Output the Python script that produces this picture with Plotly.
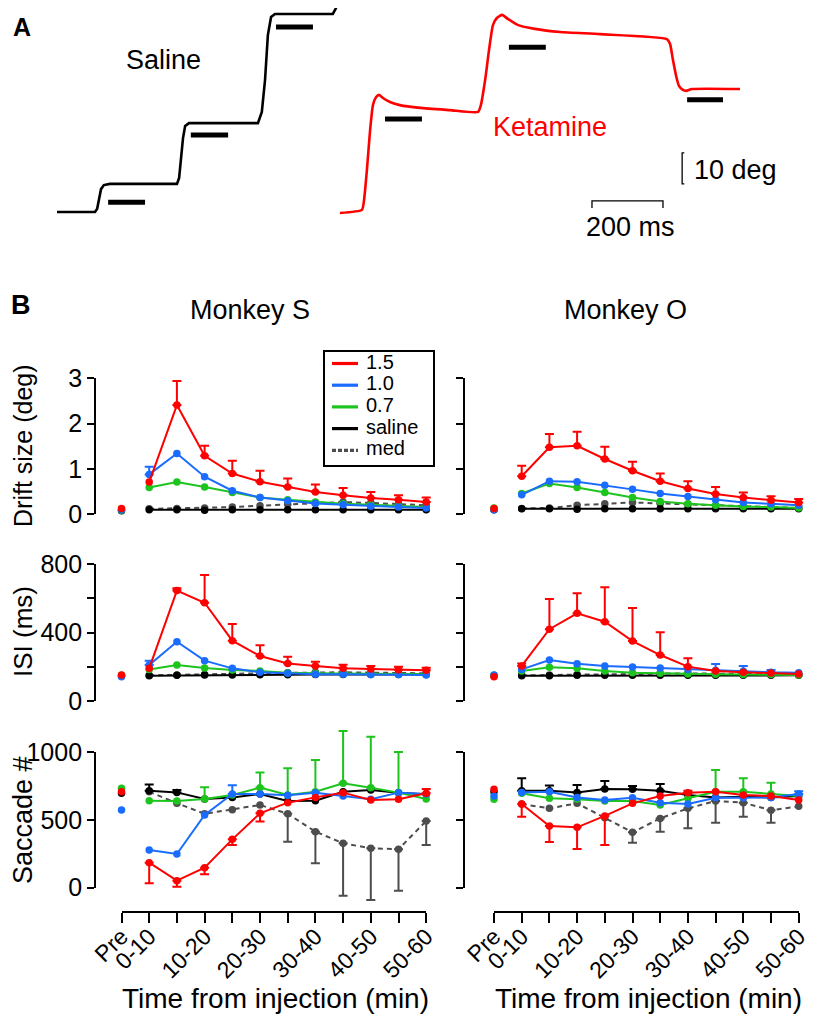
import plotly.graph_objects as go

# the page body keeps an 8 px margin, so the figure is made 8 px smaller and all
# pixel positions below are measured from the window's top-left corner
OFF = 8
W, H = 825 - OFF, 1017 - OFF
FONT = 'Liberation Sans, Arial, sans-serif'

RED = '#FF0000'
BLUE = '#1A6CFF'
GREEN = '#1EC41E'
BLACK = '#000000'
GREY = '#4D4D4D'

# ---------- A: example eye position traces (time in ms, position in deg) ----------
saline_t = [0, 107, 113, 118, 124, 132, 149, 338, 344, 349, 355, 361, 372,
            566, 577, 586, 594, 603, 614, 777, 786, 794]
saline_d = [0.3, 0.3, 1.3, 4.8, 7.7, 9.0, 9.4, 9.4, 11.3, 17.1, 24.2, 28.1, 29.0,
            29.0, 32.6, 42.9, 57.4, 63.2, 64.2, 64.2, 66.1, 70.3]
ketamine_t = [797, 859, 865, 873, 882, 890, 899, 907, 918, 938, 966, 1023, 1107, 1186,
              1194, 1206, 1217, 1228, 1239, 1254, 1270, 1299, 1346, 1417, 1530, 1718,
              1727, 1735, 1744, 1752, 1763, 1772, 1789, 1924]
ketamine_d = [0.0, 1.0, 4.2, 13.9, 26.8, 34.8, 37.4, 38.1, 37.1, 35.8, 34.8, 33.9, 33.2, 32.6,
              34.8, 42.9, 52.6, 60.6, 62.9, 63.9, 62.6, 60.6, 59.4, 58.4, 57.7, 56.1,
              54.5, 49.4, 44.2, 41.0, 39.7, 39.4, 40.0, 40.0]
saline_bar_t0 = [144, 377, 617]
saline_bar_t1 = [248, 482, 721]
saline_bar_d = [3.5, 25.2, 60.0]
ketamine_bar_t0 = [924, 1273, 1775]
ketamine_bar_t1 = [1028, 1377, 1876]
ketamine_bar_d = [30.3, 53.5, 36.5]
deg_scale_t = [1767, 1761, 1761, 1767]
deg_scale_d = [19.4, 19.4, 9.4, 9.4]
ms_scale_t = [1507, 1507, 1707, 1707]
ms_scale_d = [1.6, 3.9, 3.9, 1.6]

# ---------- B: summary per time bin; first value is "Pre" ----------
bin_labels = ['Pre', '0-10', '', '10-20', '', '20-30', '', '30-40', '', '40-50', '', '50-60']
legend_names = ['1.5', '1.0', '0.7', 'saline', 'med']
N = None

# Drift size (deg), monkey S
drift_s_red = [0.13, 0.71, 2.41, 1.29, 0.90, 0.72, 0.60, 0.49, 0.42, 0.36, 0.32, 0.27]
drift_s_red_hi = [N, N, 2.94, 1.51, 1.18, 0.96, 0.79, 0.66, 0.58, 0.49, 0.42, 0.37]
drift_s_blue = [0.10, 0.88, 1.34, 0.83, 0.52, 0.37, 0.30, 0.24, 0.21, 0.18, 0.16, 0.14]
drift_s_blue_hi = [N, 1.05, N, N, N, N, N, N, N, N, N, N]
drift_s_green = [0.09, 0.59, 0.71, 0.60, 0.48, 0.37, 0.32, 0.27, 0.23, 0.21, 0.18, 0.16]
drift_s_black = [0.08, 0.10, 0.10, 0.09, 0.10, 0.10, 0.10, 0.10, 0.10, 0.10, 0.10, 0.10]
drift_s_med = [N, 0.12, 0.13, 0.14, 0.16, 0.19, 0.22, 0.25, 0.27, 0.25, 0.22, 0.20]

# Drift size (deg), monkey O
drift_o_red = [0.13, 0.84, 1.48, 1.51, 1.22, 0.96, 0.73, 0.57, 0.45, 0.37, 0.31, 0.26]
drift_o_red_hi = [N, 1.07, 1.77, 1.82, 1.49, 1.16, 0.90, 0.73, 0.60, 0.48, 0.40, 0.34]
drift_o_blue = [0.10, 0.43, 0.73, 0.72, 0.64, 0.55, 0.46, 0.39, 0.32, 0.26, 0.23, 0.20]
drift_o_green = [0.14, 0.46, 0.68, 0.59, 0.48, 0.37, 0.28, 0.23, 0.20, 0.17, 0.16, 0.14]
drift_o_black = [0.10, 0.12, 0.12, 0.11, 0.12, 0.12, 0.12, 0.12, 0.12, 0.12, 0.12, 0.12]
drift_o_med = [N, 0.13, 0.14, 0.20, 0.23, 0.26, 0.24, 0.22, 0.19, 0.17, 0.16, 0.14]

# ISI (ms), monkey S
isi_s_red = [152, 191, 646, 575, 353, 263, 220, 205, 191, 187, 183, 180]
isi_s_red_hi = [N, N, 660, 737, 451, 326, 259, 230, 212, 205, 201, 195]
isi_s_blue = [142, 211, 347, 236, 191, 168, 162, 156, 156, 155, 155, 152]
isi_s_blue_hi = [N, 236, N, N, N, N, N, N, N, N, N, N]
isi_s_green = [150, 185, 211, 193, 181, 176, 166, 162, 160, 158, 157, 156]
isi_s_black = [148, 148, 150, 152, 152, 153, 154, 155, 155, 155, 155, 155]
isi_s_med = [N, 150, 152, 155, 158, 162, 165, 168, 168, 166, 164, 162]

# ISI (ms), monkey O
isi_o_red = [142, 205, 420, 513, 464, 351, 269, 201, 176, 168, 164, 158]
isi_o_red_hi = [N, 220, 597, 630, 665, 544, 402, 250, N, N, N, N]
isi_o_blue = [152, 185, 240, 218, 205, 199, 193, 185, 178, 174, 168, 166]
isi_o_blue_hi = [N, N, N, N, N, N, N, N, 216, 205, 181, N]
isi_o_green = [150, 176, 197, 191, 176, 166, 162, 158, 156, 155, 155, 152]
isi_o_black = [148, 148, 148, 150, 150, 150, 150, 150, 150, 150, 150, 150]
isi_o_med = [N, 150, 152, 155, 160, 162, 163, 162, 160, 158, 156, 155]

# Saccade #, monkey S
sac_s_red = [709, 185, 52, 148, 357, 549, 628, 667, 702, 648, 653, 697]
sac_s_red_hi = [N, N, N, N, N, N, N, N, N, N, N, 729]
sac_s_red_lo = [N, 32, 7, 99, 315, 488, N, N, N, N, N, N]
sac_s_blue = [574, 278, 249, 537, 692, 692, 682, 702, 677, 653, 702, 692]
sac_s_blue_hi = [N, N, N, N, 756, N, N, N, N, N, N, N]
sac_s_green = [734, 643, 640, 655, 685, 739, 685, 709, 771, 739, 702, 655]
sac_s_green_hi = [N, N, N, 741, N, 850, 882, 943, 1157, 1115, 1002, N]
sac_s_black = [697, 716, 704, 655, 667, 692, 640, 643, 709, 721, 702, 690]
sac_s_black_hi = [N, 763, 721, N, N, N, N, N, N, N, N, N]
sac_s_med = [N, 709, 624, 546, 576, 611, 546, 414, 328, 291, 284, 493]
sac_s_med_lo = [N, N, N, N, N, N, 340, 180, -59, -91, -22, 315]

# Saccade #, monkey O
sac_o_red = [727, 618, 456, 446, 530, 623, 677, 702, 709, 685, 677, 648]
sac_o_red_hi = [N, N, N, N, N, N, N, 716, N, N, N, N]
sac_o_red_lo = [N, 524, 338, 286, 315, N, N, N, N, N, N, N]
sac_o_blue = [677, 704, 709, 667, 648, 665, 628, 618, 665, 665, 667, 692]
sac_o_blue_hi = [N, N, N, N, N, N, N, N, N, N, N, 712]
sac_o_green = [653, 697, 660, 653, 640, 640, 611, 660, 709, 709, 692, 677]
sac_o_green_hi = [N, N, N, N, N, N, N, N, 869, 808, 776, N]
sac_o_black = [709, 716, 716, 704, 729, 727, 716, 685, 667, 672, 667, 677]
sac_o_black_hi = [N, 808, 754, 759, 788, 751, 766, N, N, N, N, N]
sac_o_med = [N, 618, 586, 623, 516, 409, 512, 586, 640, 628, 572, 601]
sac_o_med_lo = [N, N, N, N, N, 332, 414, 439, 480, 524, 480, N]

# series styles; drawn back to front
DASH = '5px,4px'
style = {'med': (GREY, DASH), 'saline': (BLACK, 'solid'), '0.7': (GREEN, 'solid'),
         '1.0': (BLUE, 'solid'), '1.5': (RED, 'solid')}
draw_order = ['med', 'saline', '0.7', '1.0', '1.5']

panels = [
    [  # drift
        {'med': (drift_s_med, N, N), 'saline': (drift_s_black, N, N), '0.7': (drift_s_green, N, N),
         '1.0': (drift_s_blue, drift_s_blue_hi, N), '1.5': (drift_s_red, drift_s_red_hi, N)},
        {'med': (drift_o_med, N, N), 'saline': (drift_o_black, N, N), '0.7': (drift_o_green, N, N),
         '1.0': (drift_o_blue, N, N), '1.5': (drift_o_red, drift_o_red_hi, N)},
    ],
    [  # isi
        {'med': (isi_s_med, N, N), 'saline': (isi_s_black, N, N), '0.7': (isi_s_green, N, N),
         '1.0': (isi_s_blue, isi_s_blue_hi, N), '1.5': (isi_s_red, isi_s_red_hi, N)},
        {'med': (isi_o_med, N, N), 'saline': (isi_o_black, N, N), '0.7': (isi_o_green, N, N),
         '1.0': (isi_o_blue, isi_o_blue_hi, N), '1.5': (isi_o_red, isi_o_red_hi, N)},
    ],
    [  # saccades
        {'med': (sac_s_med, N, sac_s_med_lo), 'saline': (sac_s_black, sac_s_black_hi, N),
         '0.7': (sac_s_green, sac_s_green_hi, N), '1.0': (sac_s_blue, sac_s_blue_hi, N),
         '1.5': (sac_s_red, sac_s_red_hi, sac_s_red_lo)},
        {'med': (sac_o_med, N, sac_o_med_lo), 'saline': (sac_o_black, sac_o_black_hi, N),
         '0.7': (sac_o_green, sac_o_green_hi, N), '1.0': (sac_o_blue, sac_o_blue_hi, N),
         '1.5': (sac_o_red, sac_o_red_hi, sac_o_red_lo)},
    ],
]


def fx(p):
    return (p - OFF) / W


def fy(p):
    return 1 - (p - OFF) / H


fig = go.Figure()
hidden = dict(visible=False, automargin=False, fixedrange=True)

# ---- panel A ----
A_T0, A_PX_MS, A_D0, A_PX_DEG = 57, 0.355, 213, 3.1
a_kw = dict(xaxis='x', yaxis='y', showlegend=False, hoverinfo='skip')
fig.add_trace(go.Scatter(x=saline_t, y=saline_d, mode='lines',
                         line=dict(color=BLACK, width=2.6), **a_kw))
fig.add_trace(go.Scatter(x=ketamine_t, y=ketamine_d, mode='lines',
                         line=dict(color=RED, width=2.6, shape='spline', smoothing=0.5), **a_kw))
for t0s, t1s, ds in [(saline_bar_t0, saline_bar_t1, saline_bar_d),
                     (ketamine_bar_t0, ketamine_bar_t1, ketamine_bar_d)]:
    for t0, t1, d in zip(t0s, t1s, ds):
        fig.add_trace(go.Scatter(x=[t0, t1], y=[d, d], mode='lines',
                                 line=dict(color=BLACK, width=5), **a_kw))
fig.add_trace(go.Scatter(x=deg_scale_t, y=deg_scale_d, mode='lines',
                         line=dict(color=BLACK, width=1.3), **a_kw))
fig.add_trace(go.Scatter(x=ms_scale_t, y=ms_scale_d, mode='lines',
                         line=dict(color=BLACK, width=1.3), **a_kw))

layout = dict(
    xaxis=dict(domain=[0, 1], range=[(OFF - A_T0) / A_PX_MS, (OFF + W - A_T0) / A_PX_MS],
               anchor='y', **hidden),
    yaxis=dict(domain=[fy(240), 1], range=[(A_D0 - 240) / A_PX_DEG, (A_D0 - OFF) / A_PX_DEG],
               anchor='x', **hidden),
)

# ---- panel B ----
UNIT = 27.7
cols = [dict(x0=121.5, yline=95, left=78, right=452, labels=True),
        dict(x0=494, yline=464, left=452, right=824, labels=False)]
rows = [dict(y0=514.3, ytop=378.3, top=3, dom=(332, 532),
             ticks=[0, 1, 2, 3], text=['0', '1', '2', '3']),
        dict(y0=701, ytop=564.3, top=800, dom=(540, 718),
             ticks=[0, 200, 400, 600, 800], text=['0', '', '400', '', '800']),
        dict(y0=887.7, ytop=752.3, top=1000, dom=(722, 910),
             ticks=[0, 500, 1000], text=['0', '500', '1000'])]
XLINE = 912
axis_font = dict(family=FONT, size=25, color=BLACK)
frame = dict(showline=True, linecolor=BLACK, linewidth=1.8, ticks='outside', tickwidth=1.8,
             tickcolor=BLACK, showgrid=False, zeroline=False, automargin=False,
             fixedrange=True, tickmode='array')

k = 2
for r, row in enumerate(rows):
    for c, col in enumerate(cols):
        data = panels[r][c]
        xa, ya = 'x%d' % k, 'y%d' % k
        fa = k + 6
        scale = (row['y0'] - row['ytop']) / row['top']
        layout['xaxis%d' % k] = dict(
            domain=[fx(col['left']), fx(col['right'])],
            range=[(col['left'] - col['x0']) / UNIT, (col['right'] - col['x0']) / UNIT],
            anchor=ya, **hidden)
        layout['yaxis%d' % k] = dict(
            domain=[fy(row['dom'][1]), fy(row['dom'][0])],
            range=[(row['y0'] - row['dom'][1]) / scale, (row['y0'] - row['dom'][0]) / scale],
            anchor=xa, **hidden)
        # frame axes: the drawn axis lines, detached from the data area
        bottom = r == len(rows) - 1
        layout['xaxis%d' % fa] = dict(
            domain=[fx(col['x0']), fx(col['x0'] + 11 * UNIT)], range=[0, 11],
            anchor='free', position=fy(XLINE), visible=bottom, ticklen=10,
            tickvals=list(range(12)), ticktext=bin_labels, tickangle=-45,
            ticklabelstandoff=-9,
            tickfont=dict(family=FONT, size=23, color=BLACK), **frame)
        layout['yaxis%d' % fa] = dict(
            domain=[fy(row['y0']), fy(row['ytop'])], range=[0, row['top']],
            anchor='free', position=fx(col['yline']), ticklen=7,
            tickvals=row['ticks'], ticktext=row['text'],
            showticklabels=col['labels'], tickfont=axis_font, **frame)
        fig.add_trace(go.Scatter(x=[None], y=[None], xaxis='x%d' % fa, yaxis='y%d' % fa,
                                 showlegend=False, hoverinfo='skip'))

        for name in draw_order:
            colour, dash = style[name]
            vals, hi, lo = data[name]
            for ends, up in [(hi, True), (lo, False)]:
                if ends is None:
                    continue
                ex, ey, ed = [], [], []
                for i, e in enumerate(ends):
                    if e is not None:
                        ex.append(i)
                        ey.append(vals[i])
                        ed.append(abs(e - vals[i]))
                err = dict(type='data', symmetric=False, color=colour, thickness=2, width=4.5)
                if up:
                    err.update(array=ed, arrayminus=[0] * len(ed))
                else:
                    err.update(array=[0] * len(ed), arrayminus=ed)
                fig.add_trace(go.Scatter(x=ex, y=ey, mode='markers',
                                         marker=dict(size=1, color=colour),
                                         error_y=err, xaxis=xa, yaxis=ya, showlegend=False,
                                         hoverinfo='skip'))
            fig.add_trace(go.Scatter(x=list(range(1, 12)), y=vals[1:], mode='lines+markers',
                                     line=dict(color=colour, width=2, dash=dash),
                                     marker=dict(size=7.5, color=colour), cliponaxis=False,
                                     xaxis=xa, yaxis=ya, showlegend=False, hoverinfo='skip'))
            if vals[0] is not None:
                fig.add_trace(go.Scatter(x=[0], y=[vals[0]], mode='markers',
                                         marker=dict(size=7.5, color=colour), cliponaxis=False,
                                         xaxis=xa, yaxis=ya, showlegend=False, hoverinfo='skip'))
        k += 1

# ---- legend box (own little axes, units are pixels inside the box) ----
LEG = (325, 352, 433, 465)
box = dict(showline=True, mirror=True, linecolor=BLACK, linewidth=1.8, showticklabels=False,
           ticks='', showgrid=False, zeroline=False, automargin=False, fixedrange=True)
layout['xaxis14'] = dict(domain=[fx(LEG[0]), fx(LEG[2])], range=[0, LEG[2] - LEG[0]],
                         anchor='y14', **box)
layout['yaxis14'] = dict(domain=[fy(LEG[3]), fy(LEG[1])], range=[LEG[3] - LEG[1], 0],
                         anchor='x14', **box)
for i, name in enumerate(legend_names):
    colour, dash = style[name]
    yy = 11.5 + 21.7 * i
    fig.add_trace(go.Scatter(x=[7, 33], y=[yy, yy], mode='lines',
                             line=dict(color=colour, width=3.2,
                                       dash='4px,2px' if dash != 'solid' else dash),
                             xaxis='x14', yaxis='y14', showlegend=False, hoverinfo='skip'))
    fig.add_trace(go.Scatter(x=[41], y=[yy], mode='text', text=[name], textposition='middle right',
                             textfont=dict(family=FONT, size=20, color=BLACK), cliponaxis=False,
                             xaxis='x14', yaxis='y14', showlegend=False, hoverinfo='skip'))

ann = []


def label(text, x, y, size, color=BLACK, bold=False, angle=0, xanchor='center'):
    if bold:
        text = '<b>%s</b>' % text
    ann.append(dict(text=text, x=fx(x), y=fy(y), xref='paper', yref='paper', showarrow=False,
                    xanchor=xanchor, yanchor='middle', textangle=angle,
                    font=dict(family=FONT, size=size, color=color)))


label('A', 22, 27, 25, bold=True)
label('B', 21, 305, 27, bold=True)
label('Saline', 163, 60, 27)
label('Ketamine', 550, 127, 27, color=RED)
label('10 deg', 692, 170, 27, xanchor='left')
label('200 ms', 630, 227, 27)
label('Monkey S', 250, 310, 27)
label('Monkey O', 625, 310, 27)
label('Drift size (deg)', 23, 446, 25, angle=-90)
label('ISI (ms)', 23, 632, 26, angle=-90)
label('Saccade #', 23, 820, 27, angle=-90)
label('Time from injection (min)', 275, 998, 28)
label('Time from injection (min)', 648, 998, 28)

fig.update_layout(
    **layout,
    width=W, height=H,
    margin=dict(l=0, r=0, t=0, b=0, pad=0, autoexpand=False),
    paper_bgcolor='white', plot_bgcolor='rgba(0,0,0,0)',
    annotations=ann,
    font=dict(family=FONT, color=BLACK),
    showlegend=False,
)

fig.write_html("out.html")
